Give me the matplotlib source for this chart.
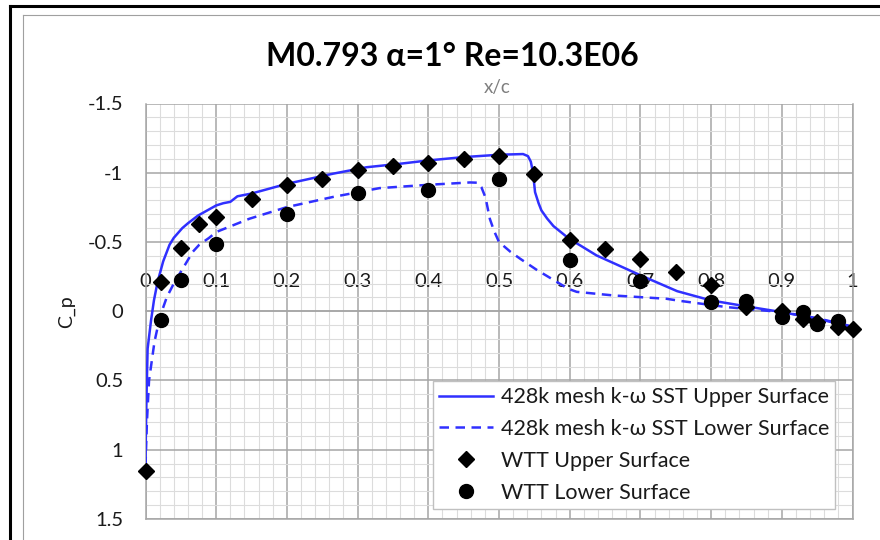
import numpy as np
import matplotlib
matplotlib.use("Agg")
import matplotlib.pyplot as plt
from matplotlib.lines import Line2D

plt.rcParams['font.family'] = ['Lato', 'DejaVu Sans']

# CFD surface pressure, 428k mesh, k-omega SST
cfd_upper_x = [0.0, 0.0005, 0.0015, 0.003, 0.008, 0.012, 0.017, 0.025, 0.034, 0.04,
               0.052, 0.06, 0.074, 0.1, 0.11, 0.12, 0.13, 0.15, 0.2, 0.265, 0.313,
               0.36, 0.4, 0.45, 0.5, 0.534, 0.541, 0.545, 0.548, 0.551, 0.556, 0.56,
               0.568, 0.577, 0.6, 0.615, 0.638, 0.7, 0.752, 0.8, 0.856, 0.9, 0.95, 1.0]
cfd_upper_cp = [1.12, 0.9, 0.6, 0.27, 0.06, -0.08, -0.21, -0.36, -0.48, -0.53,
                -0.6, -0.635, -0.69, -0.764, -0.78, -0.79, -0.83, -0.85, -0.92, -0.993, -1.04,
                -1.065, -1.089, -1.113, -1.13, -1.135, -1.12, -1.08, -1.005, -0.86, -0.78, -0.728,
                -0.67, -0.615, -0.52, -0.475, -0.403, -0.26, -0.145, -0.078, -0.03, 0.006, 0.054, 0.114]

cfd_lower_x = [0.0, 0.002, 0.005, 0.0127, 0.02, 0.0245, 0.03, 0.04, 0.067, 0.076, 0.09,
               0.1, 0.147, 0.2, 0.265, 0.331, 0.4, 0.459, 0.47, 0.475, 0.481, 0.487,
               0.493, 0.5, 0.516, 0.53, 0.553, 0.582, 0.598, 0.61, 0.662, 0.737, 0.756,
               0.822, 0.9, 0.95, 1.0]
cfd_lower_cp = [1.12, 0.8, 0.5, 0.22, 0.05, -0.02, -0.1, -0.2, -0.43, -0.48, -0.53,
                -0.572, -0.668, -0.752, -0.825, -0.889, -0.913, -0.93, -0.928, -0.897, -0.82, -0.668,
                -0.58, -0.5, -0.43, -0.379, -0.3, -0.211, -0.162, -0.14, -0.114, -0.09, -0.075,
                -0.03, 0.006, 0.05, 0.11]

# Wind tunnel test data
wtt_upper_x = [0.0, 0.022, 0.05, 0.075, 0.1, 0.15, 0.2, 0.25, 0.3, 0.35, 0.4, 0.45, 0.5,
               0.55, 0.6, 0.65, 0.7, 0.75, 0.8, 0.85, 0.9, 0.93, 0.95, 0.98, 1.0]
wtt_upper_cp = [1.157, -0.21, -0.456, -0.632, -0.68, -0.807, -0.913, -0.957, -1.017, -1.048,
                -1.072, -1.096, -1.12, -0.993, -0.518, -0.451, -0.374, -0.287, -0.186, -0.03,
                0.001, 0.054, 0.075, 0.114, 0.131]

wtt_lower_x = [0.022, 0.05, 0.1, 0.2, 0.3, 0.4, 0.5, 0.6, 0.7, 0.8, 0.85, 0.9, 0.93, 0.95, 0.98]
wtt_lower_cp = [0.066, -0.227, -0.487, -0.704, -0.856, -0.877, -0.957, -0.367, -0.218, -0.066,
                -0.071, 0.042, 0.006, 0.09, 0.074]

x_ticks = [0, 0.1, 0.2, 0.3, 0.4, 0.5, 0.6, 0.7, 0.8, 0.9, 1.0]
x_tick_labels = ["0", "0.1", "0.2", "0.3", "0.4", "0.5", "0.6", "0.7", "0.8", "0.9", "1"]
y_ticks = [-1.5, -1.0, -0.5, 0.0, 0.5, 1.0, 1.5]
y_tick_labels = ["-1.5", "-1", "-0.5", "0", "0.5", "1", "1.5"]

series_names = ["428k mesh k-ω SST Upper Surface", "428k mesh k-ω SST Lower Surface",
                "WTT Upper Surface", "WTT Lower Surface"]
title_text = "M0.793 α=1° Re=10.3E06"

BLUE = "#3030ff"
MAJOR = "#a6a6a6"
MINOR = "#dcdcdc"
W, H = 880, 540

fig = plt.figure(figsize=(W / 100, H / 100), dpi=100)

# outer frame lines of the chart object
fig.add_artist(Line2D([10 / W, 1], [1 - 6 / H, 1 - 6 / H], color="black", lw=2.2,
                      transform=fig.transFigure))
fig.add_artist(Line2D([10 / W, 10 / W], [0, 1 - 6 / H], color="black", lw=2.2,
                      transform=fig.transFigure))
fig.add_artist(Line2D([23 / W, 1], [1 - 15 / H, 1 - 15 / H], color="#a0a0a0", lw=0.8,
                      transform=fig.transFigure))
fig.add_artist(Line2D([23 / W, 23 / W], [0, 1 - 15 / H], color="#a0a0a0", lw=0.8,
                      transform=fig.transFigure))

L, R, T, B = 145.5, 852.5, 103.5, 519.0
ax = fig.add_axes([L / W, 1 - B / H, (R - L) / W, (B - T) / H])
ax.set_xlim(0, 1)
ax.set_ylim(1.5, -1.5)

ax.set_xticks(x_ticks)
ax.set_xticklabels(x_tick_labels)
ax.set_xticks(np.arange(0, 1.0001, 0.02), minor=True)
ax.set_yticks(y_ticks)
ax.set_yticklabels(y_tick_labels)
ax.set_yticks(np.arange(-1.5, 1.5001, 0.1), minor=True)

ax.grid(which="major", color=MAJOR, lw=1.1, zorder=0)
ax.grid(which="minor", color=MINOR, lw=0.8, zorder=0)
ax.set_axisbelow(True)

# horizontal axis crosses at Cp = 0, labels sit above it
ax.xaxis.tick_top()
ax.spines["top"].set_position(("data", 0))
for s in ["top", "left", "right", "bottom"]:
    ax.spines[s].set_color(MAJOR)
    ax.spines[s].set_linewidth(1.1)
ax.tick_params(axis="x", which="both", length=0, pad=15, labelsize=14.5, labelcolor="#1a1a1a")
ax.tick_params(axis="y", which="both", length=0, pad=16, labelsize=14.5, labelcolor="#1a1a1a")

ax.plot(cfd_upper_x, cfd_upper_cp, color=BLUE, lw=1.8, label=series_names[0], zorder=3)
ax.plot(cfd_lower_x, cfd_lower_cp, color=BLUE, lw=1.8, ls=(0, (3.8, 2.6)),
        label=series_names[1], zorder=3)
ax.plot(wtt_upper_x, wtt_upper_cp, ls="none", marker="D", ms=8.5, color="black",
        label=series_names[2], zorder=4, clip_on=False)
ax.plot(wtt_lower_x, wtt_lower_cp, ls="none", marker="o", ms=10, color="black",
        label=series_names[3], zorder=5, clip_on=False)

leg = ax.legend(loc="upper left", bbox_to_anchor=(432.7 / W, 1 - 380.7 / H),
                bbox_transform=fig.transFigure, borderaxespad=0, fontsize=15.5,
                frameon=True, fancybox=False, framealpha=1, edgecolor="#c0c0c0",
                handlelength=2.5, handletextpad=0.35, labelspacing=0.55, borderpad=0.3)
leg.get_frame().set_linewidth(1.0)
for t in leg.get_texts():
    t.set_color("#1a1a1a")

fig.text(452 / W, 1 - 57 / H, title_text, ha="center", va="center",
         fontsize=23, fontweight="bold", color="black")
fig.text(497 / W, 1 - 88 / H, "x/c", ha="center", va="center", fontsize=13.5,
         color="#7f7f7f")
fig.text(66 / W, 1 - 312 / H, "C_p", ha="center", va="center", rotation=90,
         fontsize=14, color="#1a1a1a")

fig.savefig("out.png", dpi=100)
